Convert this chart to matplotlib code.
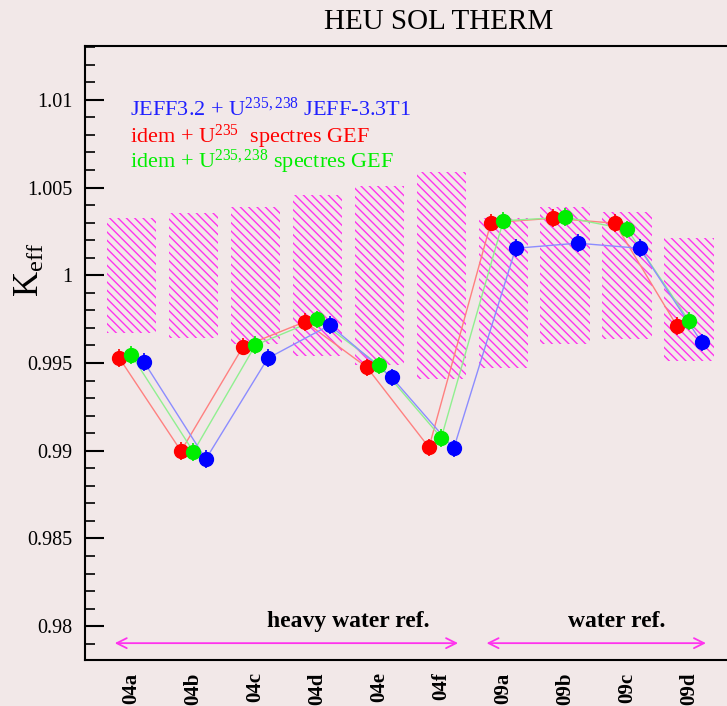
import matplotlib
matplotlib.use("Agg")
import matplotlib.pyplot as plt
from matplotlib.patches import Rectangle

plt.rcParams['font.family'] = ['Liberation Serif', 'DejaVu Serif']
plt.rcParams['mathtext.fontset'] = 'custom'
plt.rcParams['mathtext.rm'] = 'Liberation Serif'
plt.rcParams['mathtext.it'] = 'Liberation Serif:italic'
plt.rcParams['mathtext.bf'] = 'Liberation Serif:bold'
plt.rcParams['hatch.linewidth'] = 1.0

categories = ['04a', '04b', '04c', '04d', '04e', '04f', '09a', '09b', '09c', '09d']
bench_center = [1.0000, 1.0000, 1.0000, 1.0000, 1.0000, 1.0000, 0.9990, 1.0000, 1.0000, 0.99863]
bench_unc = [0.00327, 0.00356, 0.0039, 0.0046, 0.0051, 0.0059, 0.00428, 0.0039, 0.00363, 0.00352]

keff_blue = [0.99507, 0.98952, 0.99527, 0.99716, 0.99418, 0.99013, 1.00154, 1.00183, 1.00154, 0.99618]
keff_red = [0.99530, 0.98998, 0.99593, 0.99735, 0.99475, 0.99019, 1.00300, 1.00325, 1.00297, 0.99712]
keff_green = [0.99545, 0.98994, 0.99602, 0.99749, 0.99487, 0.99074, 1.00311, 1.00331, 1.00262, 0.99739]
keff_err = [0.0005] * 10

label_blue = 'JEFF3.2 + U$^{235,238}$ JEFF-3.3T1'
label_red = 'idem + U$^{235}$  spectres GEF'
label_green = 'idem + U$^{235,238}$ spectres GEF'

groups = ['heavy water ref.', 'water ref.']
group_span = [(-0.27, 5.27), (5.73, 9.27)]
group_label_x = [3.49, 7.83]

bg = '#f2e8e8'
fig = plt.figure(figsize=(7.27, 7.06), dpi=100, facecolor=bg)
ax = fig.add_axes([85/727, 46/706, (745-85)/727, (660-46)/706], facecolor=bg)

x = list(range(len(categories)))
for xi, c, u in zip(x, bench_center, bench_unc):
    ax.add_patch(Rectangle((xi - 0.4, c - u), 0.8, 2*u, facecolor='none',
                           edgecolor='#ff33ee', linewidth=0, hatch='\\\\\\\\', zorder=1))

series = [
    (keff_red, -0.2, '#ff0000', '#ff8080'),
    (keff_green, 0.0, '#00ee00', '#90f090'),
    (keff_blue, 0.2, '#0000ff', '#8c8cff'),
]
for vals, off, col, lcol in series:
    xs = [xi + off for xi in x]
    ax.plot(xs, vals, color=lcol, lw=1.0, zorder=2)
    ax.errorbar(xs, vals, yerr=keff_err, fmt='o', color=col, ms=10,
                elinewidth=1.2, capsize=0, zorder=3)

ax.set_xlim(-0.75, 9.9)
ax.set_ylim(0.97807, 1.01307)
ax.set_xticks(x)
ax.set_xticklabels(categories, rotation=90, fontsize=15, fontweight='bold')
ax.tick_params(axis='x', length=0, pad=9)
ax.set_yticks([0.98, 0.985, 0.99, 0.995, 1.0, 1.005, 1.01])
ax.set_yticklabels(['0.98', '0.985', '0.99', '0.995', '1', '1.005', '1.01'], fontsize=14.5)
ax.set_yticks([0.979 + 0.001*i for i in range(35)], minor=True)
ax.tick_params(axis='y', which='major', direction='in', length=14, width=1.5, pad=9)
ax.tick_params(axis='y', which='minor', direction='in', length=7, width=1.2)
for s in ['left', 'top', 'bottom']:
    ax.spines[s].set_linewidth(1.5)
ax.spines['right'].set_visible(False)

fig.text(30/727, 1 - 270/706, 'K$_{\\rm eff}$', rotation=90, ha='center', va='center', fontsize=25)
fig.text(439/727, 1 - 22/706, 'HEU SOL THERM', ha='center', va='center', fontsize=21)

ax.text(-0.02, 1.00909, label_blue, color='#2020ff', fontsize=16, va='baseline')
ax.text(-0.02, 1.00755, label_red, color='#ff0000', fontsize=16, va='baseline')
ax.text(-0.02, 1.00612, label_green, color='#00ee00', fontsize=16, va='baseline')

arrow_y = 0.97903
for (a, b), name, lx in zip(group_span, groups, group_label_x):
    ax.annotate('', xy=(a, arrow_y), xytext=(b, arrow_y),
                arrowprops=dict(arrowstyle='<->', color='#ff33ee', lw=1.3,
                                mutation_scale=18, shrinkA=0, shrinkB=0))
    ax.text(lx, 0.97994, name, ha='center', va='baseline', fontsize=17, fontweight='bold')

fig.savefig('out.png', dpi=100, facecolor=bg)
